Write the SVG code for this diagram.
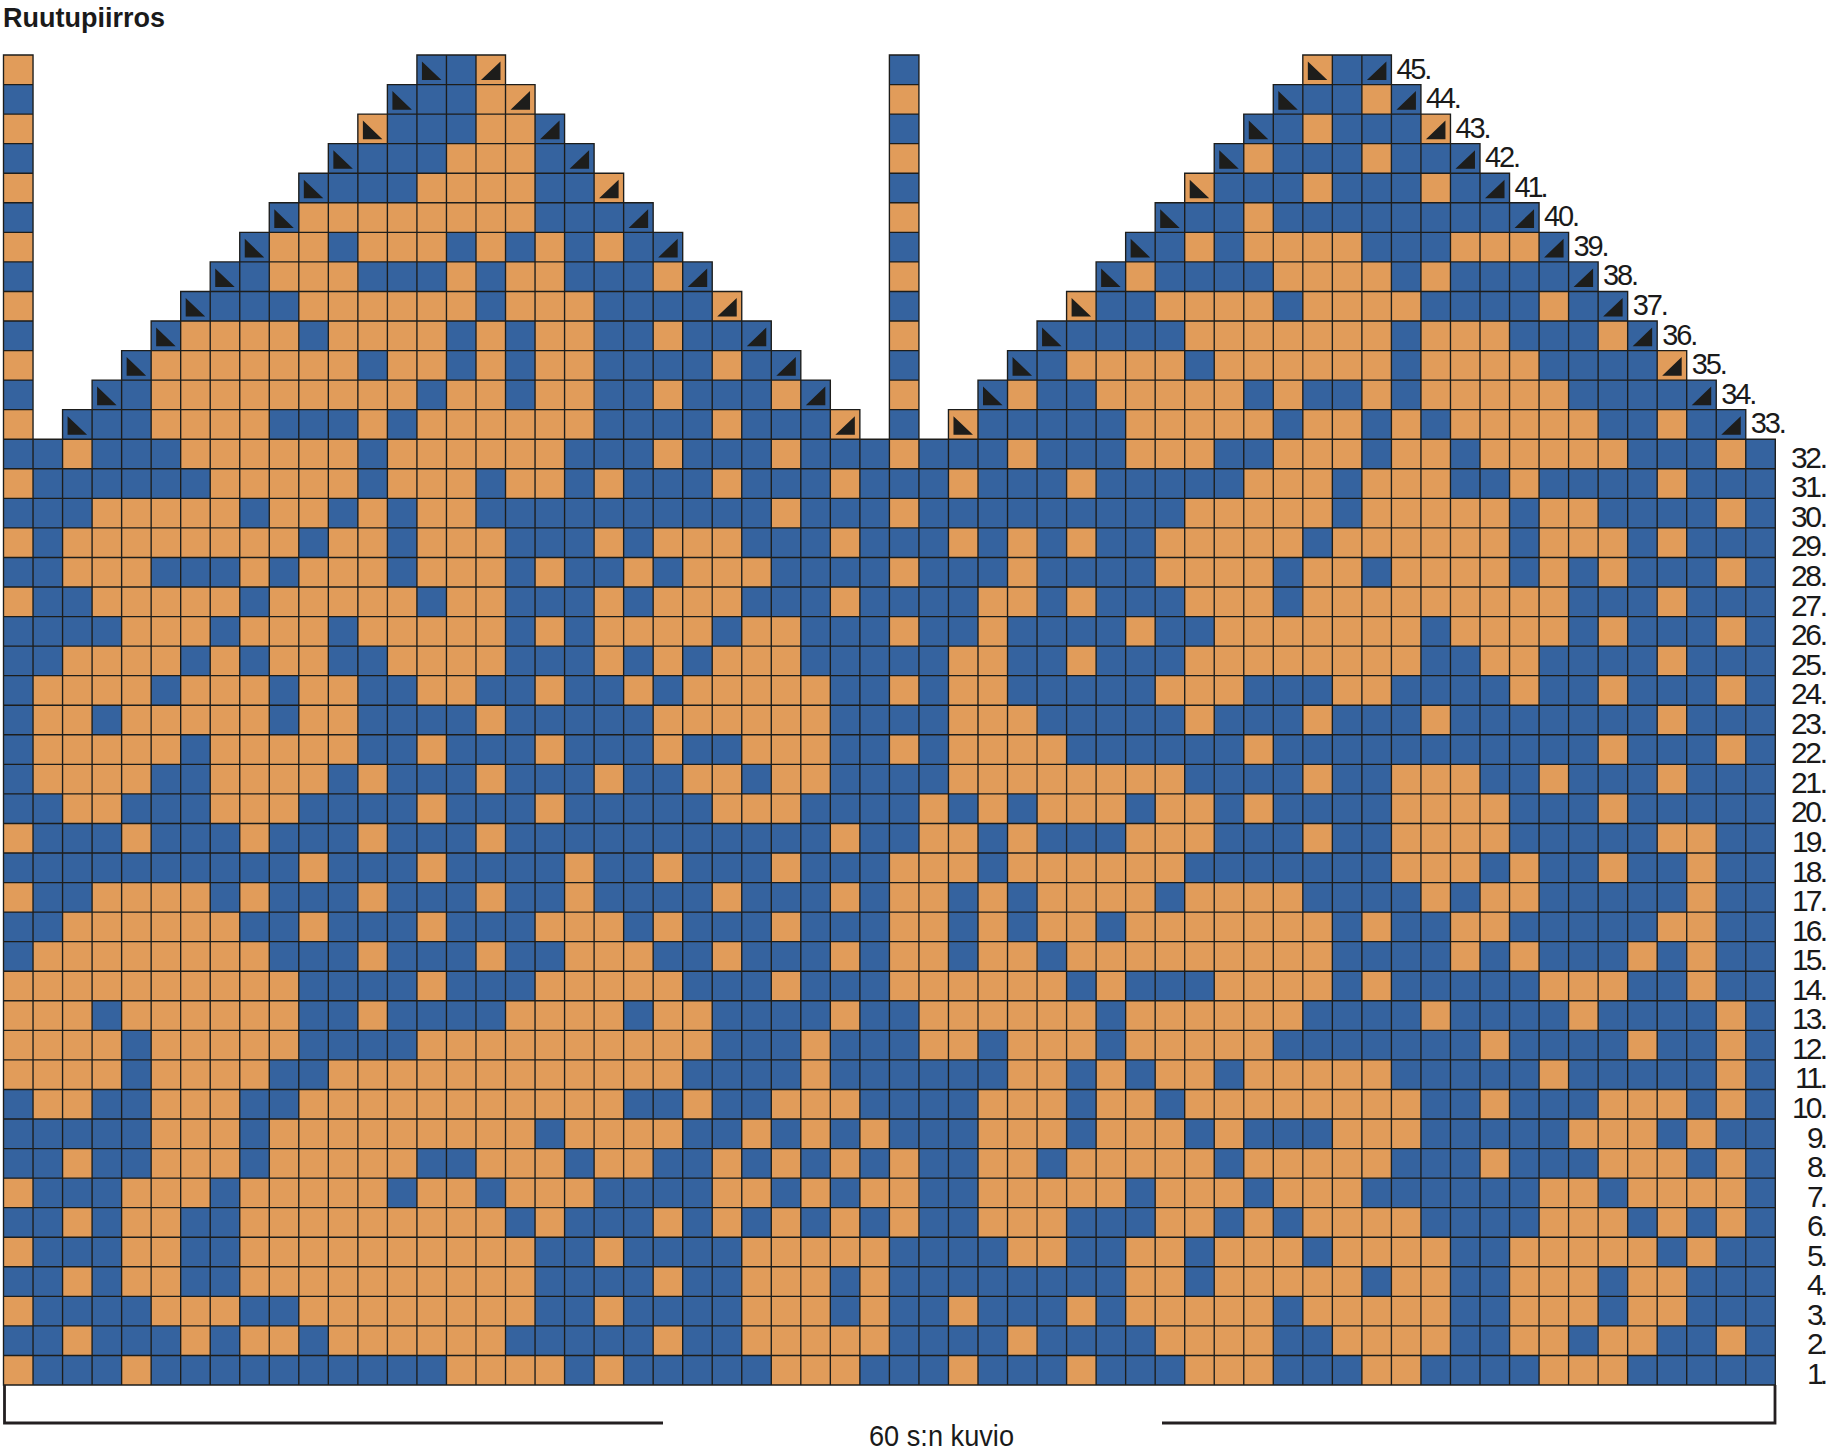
<svg xmlns="http://www.w3.org/2000/svg" width="1829" height="1450" viewBox="0 0 1829 1450">
<style>
.t{font-family:"Liberation Sans Narrow","Liberation Sans",Arial,sans-serif;fill:#1a1a1a}
.b{fill:#35639F}
.o{fill:#E19C5A}
.g{fill:none;stroke:#1d1d1b;stroke-width:.046;stroke-linecap:square}
.k{fill:#1d1d1b}
.br{fill:none;stroke:#231f20;stroke-width:2.8}
</style>
<rect width="1829" height="1450" fill="#fff"/>
<text id="title" class="t" x="3" y="27" font-size="28" font-weight="bold" textLength="162" lengthAdjust="spacingAndGlyphs">Ruutupiirros</text>
<g id="chart" transform="translate(3.5 55) scale(29.53 29.556)">
<path id="blue-cells" class="b" d="M0 13H60V45H0zM0 0H1V13H0zM30 0H31V13H30zM14 0H17V1H18V2H19V3H20V4H21V5H22V6H23V7H24V8H25V9H26V10H27V11H28V12H29V13H2V12H3V11H4V10H5V9H6V8H7V7H8V6H9V5H10V4H11V3H12V2H13V1H14zM44 0H47V1H48V2H49V3H50V4H51V5H52V6H53V7H54V8H55V9H56V10H57V11H58V12H59V13H32V12H33V11H34V10H35V9H36V8H37V7H38V6H39V5H40V4H41V3H42V2H43V1H44z"/>
<g id="orange-cells" class="o">
<path id="r45" d="M0 0h1v1h-1zM16 0h1v1h-1zM44 0h1v1h-1z"/>
<path id="r44" d="M16 1h2v1h-2zM30 1h1v1h-1zM46 1h1v1h-1z"/>
<path id="r43" d="M0 2h1v1h-1zM12 2h1v1h-1zM16 2h2v1h-2zM44 2h1v1h-1zM48 2h1v1h-1z"/>
<path id="r42" d="M15 3h3v1h-3zM30 3h1v1h-1zM42 3h1v1h-1zM46 3h1v1h-1z"/>
<path id="r41" d="M0 4h1v1h-1zM14 4h4v1h-4zM20 4h1v1h-1zM40 4h1v1h-1zM44 4h1v1h-1zM48 4h1v1h-1z"/>
<path id="r40" d="M10 5h8v1h-8zM30 5h1v1h-1zM42 5h1v1h-1z"/>
<path id="r39" d="M0 6h1v1h-1zM9 6h2v1h-2zM12 6h3v1h-3zM16 6h1v1h-1zM18 6h1v1h-1zM20 6h1v1h-1zM40 6h1v1h-1zM42 6h4v1h-4zM49 6h3v1h-3z"/>
<path id="r38" d="M9 7h3v1h-3zM15 7h1v1h-1zM17 7h2v1h-2zM22 7h1v1h-1zM30 7h1v1h-1zM38 7h1v1h-1zM43 7h4v1h-4zM48 7h1v1h-1z"/>
<path id="r37" d="M0 8h1v1h-1zM10 8h6v1h-6zM17 8h3v1h-3zM24 8h1v1h-1zM36 8h1v1h-1zM39 8h4v1h-4zM44 8h4v1h-4zM52 8h1v1h-1z"/>
<path id="r36" d="M6 9h4v1h-4zM11 9h4v1h-4zM16 9h1v1h-1zM18 9h2v1h-2zM22 9h1v1h-1zM30 9h1v1h-1zM40 9h7v1h-7zM48 9h3v1h-3zM54 9h1v1h-1z"/>
<path id="r35" d="M0 10h1v1h-1zM5 10h7v1h-7zM13 10h2v1h-2zM16 10h1v1h-1zM18 10h2v1h-2zM24 10h1v1h-1zM36 10h4v1h-4zM41 10h6v1h-6zM48 10h4v1h-4zM56 10h1v1h-1z"/>
<path id="r34" d="M5 11h9v1h-9zM15 11h2v1h-2zM18 11h2v1h-2zM22 11h1v1h-1zM26 11h1v1h-1zM30 11h1v1h-1zM34 11h1v1h-1zM37 11h5v1h-5zM43 11h1v1h-1zM46 11h1v1h-1zM48 11h5v1h-5z"/>
<path id="r33" d="M0 12h1v1h-1zM5 12h4v1h-4zM12 12h1v1h-1zM14 12h6v1h-6zM24 12h1v1h-1zM28 12h1v1h-1zM32 12h1v1h-1zM38 12h5v1h-5zM44 12h2v1h-2zM47 12h1v1h-1zM49 12h5v1h-5zM56 12h1v1h-1z"/>
<path id="r32" d="M2 13h1v1h-1zM6 13h6v1h-6zM13 13h6v1h-6zM22 13h1v1h-1zM26 13h1v1h-1zM30 13h1v1h-1zM34 13h1v1h-1zM38 13h3v1h-3zM43 13h3v1h-3zM47 13h2v1h-2zM50 13h5v1h-5zM58 13h1v1h-1z"/>
<path id="r31" d="M0 14h1v1h-1zM7 14h5v1h-5zM13 14h3v1h-3zM17 14h2v1h-2zM20 14h1v1h-1zM24 14h1v1h-1zM28 14h1v1h-1zM32 14h1v1h-1zM36 14h1v1h-1zM42 14h3v1h-3zM46 14h3v1h-3zM51 14h1v1h-1zM56 14h1v1h-1z"/>
<path id="r30" d="M3 15h5v1h-5zM9 15h2v1h-2zM12 15h1v1h-1zM14 15h2v1h-2zM26 15h1v1h-1zM30 15h1v1h-1zM40 15h5v1h-5zM46 15h5v1h-5zM52 15h2v1h-2zM58 15h1v1h-1z"/>
<path id="r29" d="M0 16h1v1h-1zM2 16h8v1h-8zM11 16h2v1h-2zM14 16h3v1h-3zM20 16h1v1h-1zM22 16h3v1h-3zM28 16h1v1h-1zM32 16h1v1h-1zM34 16h1v1h-1zM36 16h1v1h-1zM39 16h5v1h-5zM45 16h6v1h-6zM52 16h3v1h-3zM56 16h1v1h-1z"/>
<path id="r28" d="M2 17h3v1h-3zM8 17h1v1h-1zM10 17h3v1h-3zM14 17h3v1h-3zM18 17h1v1h-1zM21 17h1v1h-1zM23 17h3v1h-3zM30 17h1v1h-1zM34 17h1v1h-1zM39 17h4v1h-4zM44 17h2v1h-2zM47 17h4v1h-4zM52 17h1v1h-1zM54 17h1v1h-1zM58 17h1v1h-1z"/>
<path id="r27" d="M0 18h1v1h-1zM3 18h5v1h-5zM9 18h5v1h-5zM15 18h2v1h-2zM20 18h1v1h-1zM22 18h3v1h-3zM28 18h1v1h-1zM33 18h2v1h-2zM36 18h1v1h-1zM40 18h3v1h-3zM44 18h9v1h-9zM56 18h1v1h-1z"/>
<path id="r26" d="M4 19h3v1h-3zM8 19h3v1h-3zM12 19h5v1h-5zM18 19h1v1h-1zM20 19h4v1h-4zM25 19h2v1h-2zM30 19h1v1h-1zM33 19h1v1h-1zM38 19h1v1h-1zM41 19h7v1h-7zM49 19h4v1h-4zM54 19h1v1h-1zM58 19h1v1h-1z"/>
<path id="r25" d="M2 20h4v1h-4zM7 20h1v1h-1zM9 20h2v1h-2zM13 20h4v1h-4zM20 20h1v1h-1zM22 20h1v1h-1zM24 20h3v1h-3zM32 20h2v1h-2zM36 20h1v1h-1zM40 20h8v1h-8zM50 20h2v1h-2zM56 20h1v1h-1z"/>
<path id="r24" d="M1 21h4v1h-4zM6 21h3v1h-3zM10 21h2v1h-2zM14 21h2v1h-2zM18 21h1v1h-1zM21 21h1v1h-1zM23 21h5v1h-5zM30 21h1v1h-1zM32 21h2v1h-2zM39 21h3v1h-3zM45 21h2v1h-2zM51 21h1v1h-1zM54 21h1v1h-1zM58 21h1v1h-1z"/>
<path id="r23" d="M1 22h2v1h-2zM4 22h5v1h-5zM10 22h2v1h-2zM16 22h1v1h-1zM22 22h6v1h-6zM32 22h3v1h-3zM40 22h1v1h-1zM44 22h1v1h-1zM48 22h1v1h-1zM56 22h1v1h-1z"/>
<path id="r22" d="M1 23h5v1h-5zM7 23h5v1h-5zM14 23h1v1h-1zM18 23h1v1h-1zM22 23h1v1h-1zM25 23h3v1h-3zM30 23h1v1h-1zM32 23h4v1h-4zM42 23h1v1h-1zM54 23h1v1h-1zM58 23h1v1h-1z"/>
<path id="r21" d="M1 24h4v1h-4zM7 24h4v1h-4zM12 24h1v1h-1zM16 24h1v1h-1zM20 24h1v1h-1zM23 24h2v1h-2zM26 24h2v1h-2zM32 24h8v1h-8zM44 24h1v1h-1zM47 24h3v1h-3zM52 24h1v1h-1zM56 24h1v1h-1z"/>
<path id="r20" d="M2 25h2v1h-2zM7 25h3v1h-3zM14 25h1v1h-1zM18 25h1v1h-1zM24 25h3v1h-3zM31 25h1v1h-1zM33 25h1v1h-1zM35 25h3v1h-3zM39 25h2v1h-2zM42 25h1v1h-1zM47 25h4v1h-4zM54 25h1v1h-1z"/>
<path id="r19" d="M0 26h1v1h-1zM4 26h1v1h-1zM8 26h1v1h-1zM12 26h1v1h-1zM16 26h1v1h-1zM28 26h1v1h-1zM31 26h2v1h-2zM34 26h1v1h-1zM38 26h3v1h-3zM44 26h1v1h-1zM47 26h4v1h-4zM56 26h2v1h-2z"/>
<path id="r18" d="M10 27h1v1h-1zM14 27h1v1h-1zM19 27h1v1h-1zM22 27h1v1h-1zM26 27h1v1h-1zM30 27h3v1h-3zM34 27h6v1h-6zM47 27h3v1h-3zM51 27h1v1h-1zM54 27h1v1h-1zM57 27h1v1h-1z"/>
<path id="r17" d="M0 28h1v1h-1zM3 28h4v1h-4zM8 28h1v1h-1zM12 28h1v1h-1zM16 28h1v1h-1zM19 28h1v1h-1zM24 28h1v1h-1zM28 28h1v1h-1zM30 28h2v1h-2zM33 28h1v1h-1zM35 28h4v1h-4zM40 28h4v1h-4zM48 28h1v1h-1zM50 28h2v1h-2zM57 28h1v1h-1z"/>
<path id="r16" d="M2 29h6v1h-6zM10 29h1v1h-1zM14 29h1v1h-1zM18 29h3v1h-3zM22 29h1v1h-1zM26 29h1v1h-1zM30 29h2v1h-2zM33 29h1v1h-1zM35 29h2v1h-2zM38 29h7v1h-7zM46 29h1v1h-1zM49 29h2v1h-2zM56 29h2v1h-2z"/>
<path id="r15" d="M1 30h8v1h-8zM12 30h1v1h-1zM16 30h1v1h-1zM19 30h3v1h-3zM24 30h1v1h-1zM28 30h1v1h-1zM30 30h2v1h-2zM33 30h2v1h-2zM36 30h9v1h-9zM49 30h1v1h-1zM51 30h1v1h-1zM55 30h1v1h-1zM57 30h1v1h-1z"/>
<path id="r14" d="M0 31h10v1h-10zM14 31h1v1h-1zM18 31h5v1h-5zM26 31h1v1h-1zM30 31h6v1h-6zM37 31h1v1h-1zM41 31h4v1h-4zM46 31h1v1h-1zM52 31h3v1h-3zM57 31h1v1h-1z"/>
<path id="r13" d="M0 32h3v1h-3zM4 32h6v1h-6zM12 32h1v1h-1zM17 32h4v1h-4zM22 32h2v1h-2zM28 32h1v1h-1zM31 32h6v1h-6zM38 32h6v1h-6zM48 32h1v1h-1zM53 32h1v1h-1zM58 32h1v1h-1z"/>
<path id="r12" d="M0 33h4v1h-4zM5 33h5v1h-5zM14 33h10v1h-10zM27 33h1v1h-1zM31 33h2v1h-2zM34 33h3v1h-3zM38 33h5v1h-5zM50 33h1v1h-1zM55 33h1v1h-1zM58 33h1v1h-1z"/>
<path id="r11" d="M0 34h4v1h-4zM5 34h4v1h-4zM11 34h12v1h-12zM27 34h1v1h-1zM34 34h2v1h-2zM37 34h1v1h-1zM39 34h2v1h-2zM42 34h5v1h-5zM52 34h1v1h-1zM58 34h1v1h-1z"/>
<path id="r10" d="M1 35h2v1h-2zM5 35h3v1h-3zM10 35h11v1h-11zM23 35h1v1h-1zM26 35h3v1h-3zM33 35h3v1h-3zM37 35h2v1h-2zM40 35h8v1h-8zM50 35h1v1h-1zM54 35h3v1h-3zM58 35h1v1h-1z"/>
<path id="r9" d="M5 36h3v1h-3zM9 36h9v1h-9zM19 36h4v1h-4zM25 36h1v1h-1zM27 36h1v1h-1zM29 36h1v1h-1zM33 36h3v1h-3zM37 36h3v1h-3zM41 36h1v1h-1zM45 36h3v1h-3zM53 36h3v1h-3zM57 36h1v1h-1z"/>
<path id="r8" d="M2 37h1v1h-1zM5 37h3v1h-3zM9 37h5v1h-5zM16 37h3v1h-3zM20 37h2v1h-2zM24 37h1v1h-1zM26 37h1v1h-1zM28 37h1v1h-1zM30 37h1v1h-1zM33 37h2v1h-2zM36 37h5v1h-5zM42 37h5v1h-5zM50 37h1v1h-1zM54 37h3v1h-3zM58 37h1v1h-1z"/>
<path id="r7" d="M0 38h1v1h-1zM4 38h3v1h-3zM8 38h5v1h-5zM14 38h2v1h-2zM17 38h3v1h-3zM24 38h2v1h-2zM27 38h1v1h-1zM29 38h2v1h-2zM33 38h5v1h-5zM39 38h3v1h-3zM43 38h3v1h-3zM52 38h2v1h-2zM55 38h4v1h-4z"/>
<path id="r6" d="M2 39h1v1h-1zM4 39h2v1h-2zM8 39h9v1h-9zM18 39h1v1h-1zM22 39h1v1h-1zM24 39h1v1h-1zM26 39h1v1h-1zM28 39h1v1h-1zM30 39h1v1h-1zM33 39h3v1h-3zM39 39h2v1h-2zM42 39h1v1h-1zM44 39h4v1h-4zM52 39h3v1h-3zM56 39h1v1h-1zM58 39h1v1h-1z"/>
<path id="r5" d="M0 40h1v1h-1zM4 40h2v1h-2zM8 40h10v1h-10zM20 40h1v1h-1zM25 40h5v1h-5zM34 40h2v1h-2zM38 40h2v1h-2zM41 40h3v1h-3zM45 40h4v1h-4zM51 40h5v1h-5zM57 40h1v1h-1z"/>
<path id="r4" d="M2 41h1v1h-1zM4 41h2v1h-2zM8 41h10v1h-10zM22 41h1v1h-1zM25 41h3v1h-3zM29 41h1v1h-1zM38 41h2v1h-2zM41 41h5v1h-5zM47 41h2v1h-2zM51 41h3v1h-3zM55 41h2v1h-2z"/>
<path id="r3" d="M0 42h1v1h-1zM5 42h3v1h-3zM10 42h8v1h-8zM20 42h1v1h-1zM25 42h3v1h-3zM29 42h1v1h-1zM32 42h1v1h-1zM36 42h1v1h-1zM38 42h5v1h-5zM44 42h5v1h-5zM51 42h3v1h-3zM55 42h2v1h-2z"/>
<path id="r2" d="M2 43h1v1h-1zM6 43h1v1h-1zM8 43h2v1h-2zM11 43h6v1h-6zM22 43h1v1h-1zM25 43h5v1h-5zM34 43h1v1h-1zM39 43h4v1h-4zM45 43h4v1h-4zM51 43h2v1h-2zM54 43h2v1h-2zM58 43h1v1h-1z"/>
<path id="r1" d="M0 44h1v1h-1zM4 44h1v1h-1zM15 44h4v1h-4zM20 44h1v1h-1zM26 44h3v1h-3zM32 44h1v1h-1zM36 44h1v1h-1zM40 44h3v1h-3zM46 44h2v1h-2zM52 44h3v1h-3z"/>
</g>
<path id="grid" class="g" d="M0 13H60M0 14H60M0 15H60M0 16H60M0 17H60M0 18H60M0 19H60M0 20H60M0 21H60M0 22H60M0 23H60M0 24H60M0 25H60M0 26H60M0 27H60M0 28H60M0 29H60M0 30H60M0 31H60M0 32H60M0 33H60M0 34H60M0 35H60M0 36H60M0 37H60M0 38H60M0 39H60M0 40H60M0 41H60M0 42H60M0 43H60M0 44H60M0 45H60M0 13V45M1 13V45M2 13V45M3 13V45M4 13V45M5 13V45M6 13V45M7 13V45M8 13V45M9 13V45M10 13V45M11 13V45M12 13V45M13 13V45M14 13V45M15 13V45M16 13V45M17 13V45M18 13V45M19 13V45M20 13V45M21 13V45M22 13V45M23 13V45M24 13V45M25 13V45M26 13V45M27 13V45M28 13V45M29 13V45M30 13V45M31 13V45M32 13V45M33 13V45M34 13V45M35 13V45M36 13V45M37 13V45M38 13V45M39 13V45M40 13V45M41 13V45M42 13V45M43 13V45M44 13V45M45 13V45M46 13V45M47 13V45M48 13V45M49 13V45M50 13V45M51 13V45M52 13V45M53 13V45M54 13V45M55 13V45M56 13V45M57 13V45M58 13V45M59 13V45M60 13V45M0 0V13M1 0V13M0 0H1M0 1H1M0 2H1M0 3H1M0 4H1M0 5H1M0 6H1M0 7H1M0 8H1M0 9H1M0 10H1M0 11H1M0 12H1M30 0V13M31 0V13M30 0H31M30 1H31M30 2H31M30 3H31M30 4H31M30 5H31M30 6H31M30 7H31M30 8H31M30 9H31M30 10H31M30 11H31M30 12H31M14 0H17M13 1H18M12 2H19M11 3H20M10 4H21M9 5H22M8 6H23M7 7H24M6 8H25M5 9H26M4 10H27M3 11H28M2 12H29M2 12V13M3 11V13M4 10V13M5 9V13M6 8V13M7 7V13M8 6V13M9 5V13M10 4V13M11 3V13M12 2V13M13 1V13M14 0V13M15 0V13M16 0V13M17 0V13M18 1V13M19 2V13M20 3V13M21 4V13M22 5V13M23 6V13M24 7V13M25 8V13M26 9V13M27 10V13M28 11V13M29 12V13M44 0H47M43 1H48M42 2H49M41 3H50M40 4H51M39 5H52M38 6H53M37 7H54M36 8H55M35 9H56M34 10H57M33 11H58M32 12H59M32 12V13M33 11V13M34 10V13M35 9V13M36 8V13M37 7V13M38 6V13M39 5V13M40 4V13M41 3V13M42 2V13M43 1V13M44 0V13M45 0V13M46 0V13M47 0V13M48 1V13M49 2V13M50 3V13M51 4V13M52 5V13M53 6V13M54 7V13M55 8V13M56 9V13M57 10V13M58 11V13M59 12V13"/>
<path id="decrease-marks" class="k" d="M14.17 .22v.63h.66zM13.17 1.22v.63h.66zM12.17 2.22v.63h.66zM11.17 3.22v.63h.66zM10.17 4.22v.63h.66zM9.17 5.22v.63h.66zM8.17 6.22v.63h.66zM7.17 7.22v.63h.66zM6.17 8.22v.63h.66zM5.17 9.22v.63h.66zM4.17 10.22v.63h.66zM3.17 11.22v.63h.66zM2.17 12.22v.63h.66zM16.83 .22v.63h-.66zM17.83 1.22v.63h-.66zM18.83 2.22v.63h-.66zM19.83 3.22v.63h-.66zM20.83 4.22v.63h-.66zM21.83 5.22v.63h-.66zM22.83 6.22v.63h-.66zM23.83 7.22v.63h-.66zM24.83 8.22v.63h-.66zM25.83 9.22v.63h-.66zM26.83 10.22v.63h-.66zM27.83 11.22v.63h-.66zM28.83 12.22v.63h-.66zM44.17 .22v.63h.66zM43.17 1.22v.63h.66zM42.17 2.22v.63h.66zM41.17 3.22v.63h.66zM40.17 4.22v.63h.66zM39.17 5.22v.63h.66zM38.17 6.22v.63h.66zM37.17 7.22v.63h.66zM36.17 8.22v.63h.66zM35.17 9.22v.63h.66zM34.17 10.22v.63h.66zM33.17 11.22v.63h.66zM32.17 12.22v.63h.66zM46.83 .22v.63h-.66zM47.83 1.22v.63h-.66zM48.83 2.22v.63h-.66zM49.83 3.22v.63h-.66zM50.83 4.22v.63h-.66zM51.83 5.22v.63h-.66zM52.83 6.22v.63h-.66zM53.83 7.22v.63h-.66zM54.83 8.22v.63h-.66zM55.83 9.22v.63h-.66zM56.83 10.22v.63h-.66zM57.83 11.22v.63h-.66zM58.83 12.22v.63h-.66z"/>
</g>
<g id="row-labels" class="t" font-size="30" text-anchor="end" lengthAdjust="spacingAndGlyphs">
<text x="1828" y="1384" textLength="21">1.</text>
<text x="1828" y="1354.4" textLength="21">2.</text>
<text x="1828" y="1324.9" textLength="21">3.</text>
<text x="1828" y="1295.3" textLength="21">4.</text>
<text x="1828" y="1265.8" textLength="21">5.</text>
<text x="1828" y="1236.2" textLength="21">6.</text>
<text x="1828" y="1206.7" textLength="21">7.</text>
<text x="1828" y="1177.1" textLength="21">8.</text>
<text x="1828" y="1147.6" textLength="21">9.</text>
<text x="1828" y="1118" textLength="36">10.</text>
<text x="1828" y="1088.4" textLength="33">11.</text>
<text x="1828" y="1058.9" textLength="36">12.</text>
<text x="1828" y="1029.3" textLength="36">13.</text>
<text x="1828" y="999.8" textLength="36">14.</text>
<text x="1828" y="970.2" textLength="36">15.</text>
<text x="1828" y="940.7" textLength="36">16.</text>
<text x="1828" y="911.1" textLength="36">17.</text>
<text x="1828" y="881.5" textLength="36">18.</text>
<text x="1828" y="852" textLength="36">19.</text>
<text x="1828" y="822.4" textLength="37">20.</text>
<text x="1828" y="792.9" textLength="37">21.</text>
<text x="1828" y="763.3" textLength="37">22.</text>
<text x="1828" y="733.8" textLength="37">23.</text>
<text x="1828" y="704.2" textLength="37">24.</text>
<text x="1828" y="674.7" textLength="37">25.</text>
<text x="1828" y="645.1" textLength="37">26.</text>
<text x="1828" y="615.6" textLength="37">27.</text>
<text x="1828" y="586" textLength="37">28.</text>
<text x="1828" y="556.4" textLength="37">29.</text>
<text x="1828" y="526.9" textLength="37">30.</text>
<text x="1828" y="497.3" textLength="37">31.</text>
<text x="1828" y="467.8" textLength="37">32.</text>
</g>
<g id="top-row-labels" class="t" font-size="29" lengthAdjust="spacingAndGlyphs">
<text x="1750.8" y="433.2" textLength="36">33.</text>
<text x="1721.2" y="403.7" textLength="36">34.</text>
<text x="1691.7" y="374.1" textLength="36">35.</text>
<text x="1662.2" y="344.6" textLength="36">36.</text>
<text x="1632.7" y="315" textLength="36">37.</text>
<text x="1603.1" y="285.4" textLength="36">38.</text>
<text x="1573.6" y="255.9" textLength="36">39.</text>
<text x="1544.1" y="226.3" textLength="36">40.</text>
<text x="1514.5" y="196.8" textLength="34">41.</text>
<text x="1485" y="167.2" textLength="36">42.</text>
<text x="1455.5" y="137.7" textLength="36">43.</text>
<text x="1425.9" y="108.1" textLength="36">44.</text>
<text x="1396.4" y="78.6" textLength="36">45.</text>
</g>
<g id="repeat-bracket">
<path class="br" d="M4.5 1385V1423H663M1162 1423H1775V1385"/>
<text class="t" x="869" y="1446" font-size="30" textLength="145" lengthAdjust="spacingAndGlyphs">60 s:n kuvio</text>
</g>
</svg>
